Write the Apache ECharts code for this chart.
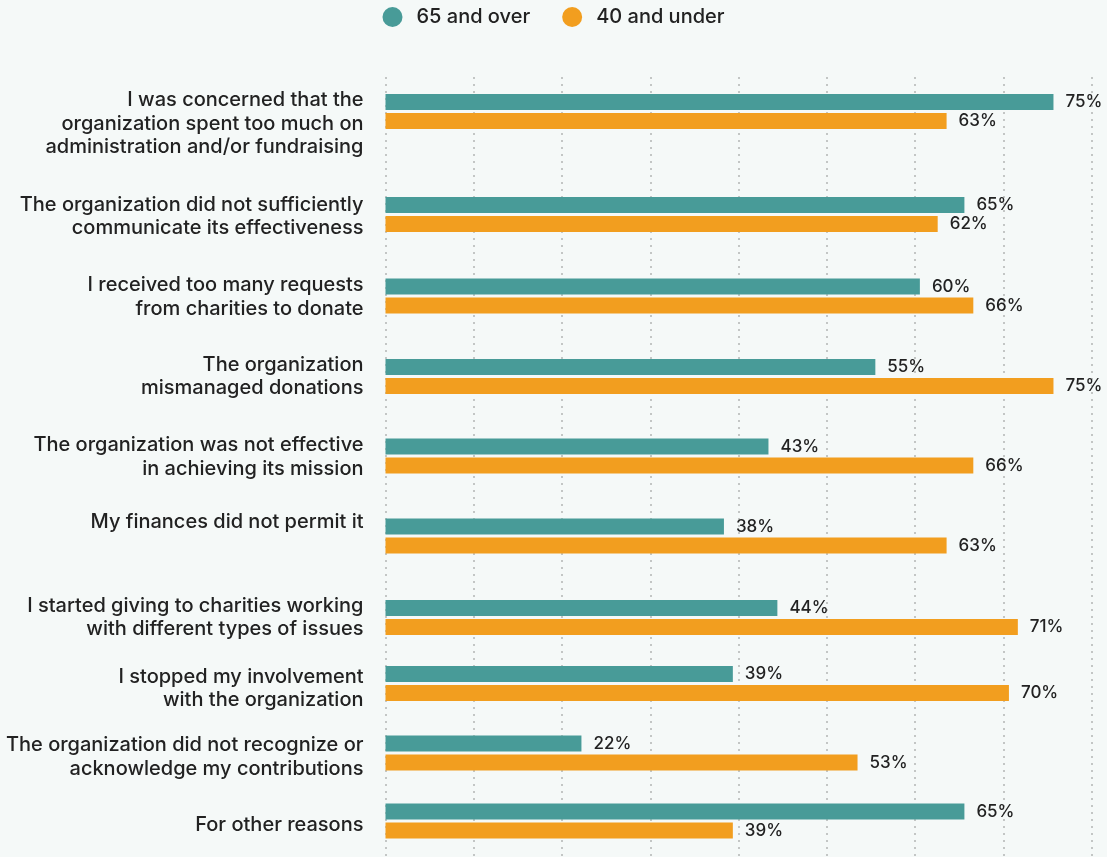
<!DOCTYPE html>
<html>
<head>
<meta charset="utf-8">
<script src="https://cdn.jsdelivr.net/npm/echarts@6/dist/echarts.min.js"></script>
<style>
html,body{margin:0;padding:0;background:#f5f9f8;}
#chart{width:1107px;height:857px;}
</style>
</head>
<body>
<div id="chart"></div>
<script>
// ---- data ----
const categories = [
  "I was concerned that the\norganization spent too much on\nadministration and/or fundraising",
  "The organization did not sufficiently\ncommunicate its effectiveness",
  "I received too many requests\nfrom charities to donate",
  "The organization\nmismanaged donations",
  "The organization was not effective\nin achieving its mission",
  "My finances did not permit it",
  "I started giving to charities working\nwith different types of issues",
  "I stopped my involvement\nwith the organization",
  "The organization did not recognize or\nacknowledge my contributions",
  "For other reasons"
];
const seriesNames = ["65 and over", "40 and under"];
const over65 = [75, 65, 60, 55, 43, 38, 44, 39, 22, 65];
const under40 = [63, 62, 66, 75, 66, 63, 71, 70, 53, 39];

// ---- layout (not data) ----
const rowCenters = [111.5, 214.5, 296, 376.5, 456, 536, 617.5, 683.5, 753, 821];
// label vertical nudge in px (+ down, - up)
const labelNudge = [12, 2, 1, 0, 1, -14, 0, 5, 4, 4];
const colors = ["#489b98", "#f29e1f"];
const gridLeft = 385.5, rowH = 50;
const FONT = "Inter";

const grids = [{left: gridLeft, right: 15.3, top: 77, height: 820}];
const xAxes = [{
  gridIndex: 0, type: 'value', min: 0, max: 80, interval: 10,
  axisLine: {show: false}, axisTick: {show: false}, axisLabel: {show: false},
  splitLine: {show: true, lineStyle: {color: '#c3c6c5', width: 2, type: [2, 5]}}
}];
const yAxes = [{gridIndex: 0, type: 'value', show: false}];
const series = [];

categories.forEach((cat, i) => {
  const gi = i + 1;
  grids.push({left: gridLeft, right: 9, top: rowCenters[i] - rowH / 2, height: rowH});
  xAxes.push({gridIndex: gi, type: 'value', min: 0, max: 80, show: false, splitLine: {show: false}});
  const n = labelNudge[i];
  yAxes.push({
    gridIndex: gi, type: 'category', data: [cat],
    axisLine: {show: false}, axisTick: {show: false}, splitLine: {show: false},
    axisLabel: {
      margin: 22, fontFamily: FONT, fontSize: 20, fontWeight: 500, color: '#222222',
      lineHeight: 23.5, align: 'right',
      formatter: v => (n > 0 ? '{s| }\n' : '') + v + (n < 0 ? '\n{s| }' : ''),
      rich: {s: {lineHeight: Math.max(1, 2 * Math.abs(n)), fontSize: 2}}
    }
  });
  [over65, under40].forEach((arr, k) => {
    series.push({
      name: seriesNames[k], type: 'bar', xAxisIndex: gi, yAxisIndex: gi,
      data: [arr[i]], barWidth: 16, barGap: '18.75%',
      itemStyle: {color: colors[k]},
      label: {
        show: true, position: 'right', distance: 12, formatter: '{c}%',
        fontFamily: FONT, fontSize: 17, fontWeight: 500, color: '#222222'
      },
      silent: true, animation: false
    });
  });
});

const chart = echarts.init(document.getElementById('chart'), null, {renderer: 'canvas'});
chart.setOption({
  backgroundColor: '#f5f9f8',
  animation: false,
  legend: {
    data: seriesNames, top: 2, left: 'center', icon: 'circle',
    itemWidth: 20, itemHeight: 20, itemGap: 32,
    textStyle: {fontFamily: FONT, fontSize: 20, fontWeight: 500, color: '#222222', padding: [0, 0, 0, 9]}
  },
  grid: grids, xAxis: xAxes, yAxis: yAxes, series: series
});
</script>
</body>
</html>
